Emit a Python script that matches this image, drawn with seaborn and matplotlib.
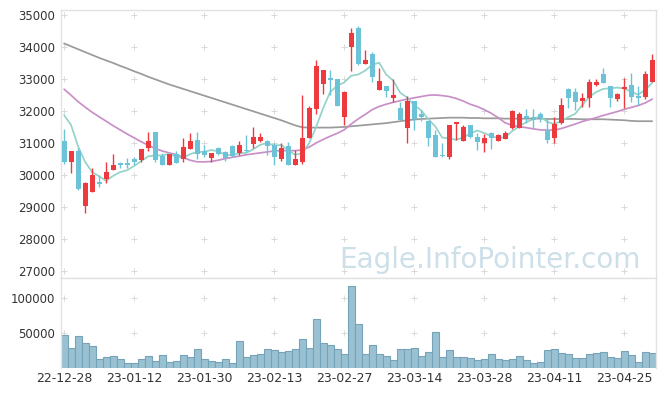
import numpy as np
import matplotlib
matplotlib.use("Agg")
import matplotlib.pyplot as plt
import seaborn as sns

# daily candles, index 0 = 22-12-28
opens = [31070, 30400, 30760, 29050, 29490, 29790, 29880, 30170, 30380, 30380,
         30510, 30480, 30840, 31350, 30610, 30320, 30660, 30500, 30810, 31100,
         30760, 30550, 30840, 30740, 30920, 30690, 30800, 30980, 31080, 31080,
         30950, 30500, 30920, 30320, 30430, 31160, 32060, 32840, 33020, 33010,
         31830, 34020, 34600, 33490, 33790, 32670, 32790, 32420, 32110, 31490,
         32320, 31920, 31700, 31260, 30620, 30580, 31600, 31080, 31570, 31210,
         31000, 31310, 31080, 31130, 31490, 31490, 31850, 31830, 31910, 31420,
         31150, 31630, 32700, 32610, 32330, 32410, 32820, 33170, 32790, 32380,
         32690, 32820, 32450, 32440, 32910]
highs = [31440, 30760, 30840, 29800, 30240, 30000, 30430, 30660, 30430, 30530,
         30580, 30830, 31340, 31350, 30690, 30660, 30760, 31180, 31310, 31340,
         30950, 30710, 30870, 30760, 30960, 31070, 31260, 31500, 31330, 31090,
         31020, 31020, 31050, 30790, 32500, 32170, 33600, 33300, 33290, 33010,
         32620, 34590, 34670, 33920, 33860, 33340, 32800, 33000, 32300, 32480,
         32330, 32040, 31700, 31420, 31000, 31580, 31680, 31570, 31580, 31310,
         31280, 31360, 31290, 31380, 32050, 31970, 32070, 32070, 31990, 31800,
         31830, 32400, 32720, 32720, 32560, 33010, 33010, 33340, 32800, 32560,
         33030, 33190, 32790, 33260, 33780]
lows = [30340, 30080, 29540, 28810, 29490, 29640, 29750, 30170, 30220, 30220,
        30330, 30430, 30770, 30430, 30320, 30320, 30390, 30430, 30810, 30500,
        30560, 30430, 30640, 30450, 30560, 30620, 30740, 30850, 31050, 30630,
        30320, 30460, 30320, 30320, 30350, 31150, 31920, 32540, 32510, 32180,
        31560, 33270, 33440, 33480, 32920, 32660, 32460, 32300, 31730, 31000,
        31420, 31710, 30920, 30580, 30580, 30500, 31100, 31070, 31150, 30790,
        30740, 30820, 31060, 31120, 31450, 31480, 31620, 31470, 31680, 31000,
        31000, 31600, 32110, 32040, 32120, 32140, 32780, 32880, 32140, 32330,
        32090, 32300, 32200, 32380, 32900]
closes = [30400, 30760, 29570, 29750, 30010, 29740, 30100, 30320, 30330, 30310,
          30410, 30820, 31070, 30490, 30320, 30650, 30390, 30890, 31070, 30670,
          30630, 30700, 30670, 30530, 30610, 30950, 30760, 31210, 31200, 30920,
          30580, 30860, 30320, 30510, 31180, 32110, 33420, 33290, 32990, 32180,
          32610, 34460, 33490, 33600, 33080, 32950, 32640, 32510, 31730, 32330,
          31750, 31810, 31180, 30580, 30590, 31570, 31650, 31520, 31190, 31050,
          31180, 31160, 31260, 31310, 32010, 31910, 31790, 31730, 31800, 31100,
          31600, 32200, 32410, 32300, 32430, 32930, 32930, 32890, 32410, 32540,
          32770, 32460, 32430, 33170, 33600]
volumes = [46000, 27400, 44600, 34600, 30300, 11700, 14600, 16000, 11700, 6000,
           6000, 11700, 16000, 8900, 17400, 7400, 8900, 17400, 14600, 26000,
           11700, 8900, 7400, 11700, 6000, 37400, 14600, 17400, 18900, 26000,
           24600, 21700, 23100, 26000, 40300, 27400, 68900, 34600, 31700, 26000,
           18900, 116400, 61700, 18900, 31700, 18900, 16000, 10300, 26000, 26000,
           27400, 16000, 21700, 50300, 14600, 24600, 14600, 14600, 13100, 10300,
           11700, 18900, 11700, 10300, 11700, 16000, 10300, 6000, 7400, 24600,
           26000, 20300, 18900, 13100, 13100, 18900, 20300, 21700, 14600, 13100,
           23100, 17400, 7400, 21700, 20300]

# moving averages as drawn on the chart
ma5 = [31880, 31570, 30900, 30420, 30100, 29970, 29830, 29980, 30100, 30160,
       30290, 30440, 30590, 30620, 30620, 30670, 30580, 30550, 30660, 30730,
       30730, 30790, 30750, 30640, 30630, 30690, 30700, 30810, 30950, 31010,
       30930, 30950, 30780, 30640, 30690, 31000, 31510, 32100, 32600, 32800,
       32900, 33110, 33150, 33270, 33450, 33520, 33150, 32960, 32580, 32430,
       32190, 32030, 31760, 31530, 31180, 31150, 31110, 31180, 31300, 31400,
       31320, 31220, 31170, 31190, 31380, 31530, 31660, 31750, 31850, 31670,
       31600, 31690, 31820, 31920, 32190, 32450, 32600, 32700, 32720, 32740,
       32710, 32610, 32520, 32670, 32890]
ma20 = [32690, 32500, 32300, 32130, 31970, 31830, 31690, 31550, 31420, 31290,
        31170, 31050, 30940, 30840, 30760, 30700, 30650, 30560, 30470, 30420,
        30420, 30430, 30470, 30520, 30560, 30600, 30640, 30670, 30700, 30730,
        30760, 30770, 30770, 30770, 30790, 30880, 31010, 31120, 31220, 31310,
        31420, 31600, 31760, 31900, 32050, 32150, 32220, 32280, 32330, 32380,
        32420, 32460, 32500, 32510, 32490, 32460, 32400, 32320, 32220, 32150,
        32050, 31940, 31800, 31640, 31560, 31520, 31490, 31450, 31420, 31410,
        31410, 31460, 31530, 31600, 31680, 31740, 31800, 31870, 31930, 31990,
        32060, 32120, 32180, 32260, 32380]
ma60 = [34120, 34030, 33940, 33850, 33760, 33670, 33590, 33510, 33420, 33340,
        33250, 33170, 33080, 33000, 32920, 32840, 32770, 32700, 32630, 32560,
        32490, 32420, 32350, 32280, 32210, 32140, 32070, 32000, 31930, 31860,
        31790, 31720, 31640, 31560, 31500, 31490, 31490, 31490, 31490, 31500,
        31510, 31530, 31550, 31570, 31590, 31610, 31630, 31660, 31690, 31720,
        31740, 31760, 31770, 31780, 31790, 31800, 31800, 31800, 31790, 31790,
        31780, 31780, 31780, 31770, 31770, 31770, 31770, 31770, 31770, 31760,
        31760, 31760, 31760, 31760, 31750, 31750, 31750, 31750, 31740, 31730,
        31720, 31700, 31690, 31690, 31690]

date_labels = ["22-12-28", "23-01-12", "23-01-30", "23-02-13", "23-02-27",
               "23-03-14", "23-03-28", "23-04-11", "23-04-25"]
price_ticks = [27000, 28000, 29000, 30000, 31000, 32000, 33000, 34000, 35000]
volume_ticks = [50000, 100000]

sns.set_theme(style="white")
plt.rcParams["font.family"] = ["DejaVu Sans"]

UP = "#ec3a3e"
DOWN = "#6cc2d7"
FRAME = "#e2e2e2"
TXT = "#333333"

idx = np.arange(len(closes))
o = np.array(opens, dtype=float)
c = np.array(closes, dtype=float)
colors = np.where(c >= o, UP, DOWN)
tick_pos = np.arange(0, 10 * len(date_labels), 10)

W, H = 665, 396
fig = plt.figure(figsize=(W / 100, H / 100), dpi=100)
left, right = 61.3, 655.7
ax = fig.add_axes([left / W, 1 - 278 / H, (right - left) / W, (278 - 10) / H])
axv = fig.add_axes([left / W, 1 - 367.5 / H, (right - left) / W, (367.5 - 278) / H], sharex=ax)

# grid shown as small crosses at the tick intersections
gx, gy = np.meshgrid(tick_pos, price_ticks)
ax.scatter(gx.ravel(), gy.ravel(), marker="+", s=14, linewidths=0.7, color="#d9d9d9", zorder=0)
gx, gy = np.meshgrid(tick_pos, volume_ticks)
axv.scatter(gx.ravel(), gy.ravel(), marker="+", s=14, linewidths=0.7, color="#d9d9d9", zorder=0)

# moving averages behind the candles
sns.lineplot(x=idx, y=ma60, ax=ax, color="#9a9a9a", linewidth=1.25, zorder=1)
sns.lineplot(x=idx, y=ma20, ax=ax, color="#c98fc7", linewidth=1.25, zorder=1)
sns.lineplot(x=idx, y=ma5, ax=ax, color="#95d3c9", linewidth=1.25, zorder=1)

# candles
ax.vlines(idx, lows, highs, colors=colors, linewidth=1.0, zorder=2)
body = np.maximum(np.abs(c - o), 35)
ax.bar(idx, body, bottom=np.minimum(o, c), width=0.72, color=colors, linewidth=0, zorder=3)

ax.text(0.975, 0.037, "Eagle.InfoPointer.com", transform=ax.transAxes,
        ha="right", va="baseline", fontsize=20, color="#cddfe9", zorder=0)

ax.set_xlim(-0.4, 84.5)
ax.set_ylim(26790, 35165)
ax.set_yticks(price_ticks)
ax.set_yticklabels([str(t) for t in price_ticks])

# volume
axv.bar(idx, volumes, width=1.0, color="#9ac1d1", edgecolor="#74a3ba", linewidth=0.8)
axv.set_ylim(0, 127900)
axv.set_yticks(volume_ticks)
axv.set_yticklabels([str(t) for t in volume_ticks])
axv.set_xticks(tick_pos)
axv.set_xticklabels(date_labels)

for a in (ax, axv):
    a.tick_params(length=0, labelsize=8.5, labelcolor=TXT, pad=4.5)
    a.set_xlabel("")
    a.set_ylabel("")
    for s in a.spines.values():
        s.set_color(FRAME)
        s.set_linewidth(1.0)
ax.tick_params(labelbottom=False)
axv.spines["bottom"].set_visible(False)
axv.tick_params(axis="x", pad=3, labelsize=9)

fig.savefig("out.png", dpi=100)
